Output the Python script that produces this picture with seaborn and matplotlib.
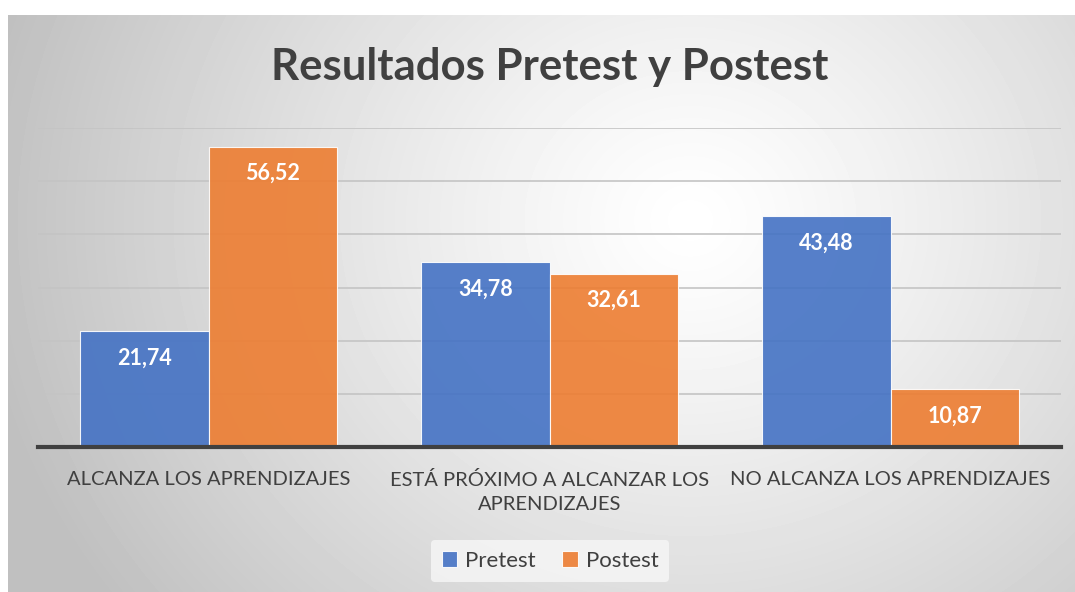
import numpy as np
import pandas as pd
import matplotlib
matplotlib.use("Agg")
import matplotlib.pyplot as plt
import seaborn as sns

# Data
categorias = ["ALCANZA LOS APRENDIZAJES",
              "ESTÁ PRÓXIMO A ALCANZAR LOS\nAPRENDIZAJES",
              "NO ALCANZA LOS APRENDIZAJES"]
pretest = [21.74, 34.78, 43.48]
postest = [56.52, 32.61, 10.87]
series = ["Pretest", "Postest"]

df = pd.DataFrame({
    "categoria": categorias * 2,
    "valor": pretest + postest,
    "serie": [series[0]] * 3 + [series[1]] * 3,
})

sns.set_style("white")
plt.rcParams["font.family"] = ["Lato", "DejaVu Sans"]

W, H = 1075, 592
fig = plt.figure(figsize=(W / 100, H / 100), dpi=100)
fig.patch.set_facecolor("white")

# radial gradient background of the chart box
bx0, by0, bx1, by1 = 8, 15, 1075, 592
bg = fig.add_axes([bx0 / W, 1 - by1 / H, (bx1 - bx0) / W, (by1 - by0) / H])
yy, xx = np.mgrid[by0:by1, bx0:bx1]
r = np.sqrt(((xx - 690) / 1.0) ** 2 + ((yy - 220) / 0.9) ** 2)
t = np.clip(r / 720, 0, 1)
shade = 1 - 0.25 * t ** 1.2
bg.imshow(shade, cmap="gray", vmin=0, vmax=1, aspect="auto",
          extent=[0, 1, 0, 1], origin="upper")
bg.axis("off")
bg.set_zorder(0)

# main axes
ax_l, ax_r, ax_b, ax_t = 38, 1061, 447, 128
ax = fig.add_axes([ax_l / W, 1 - ax_b / H, (ax_r - ax_l) / W, (ax_b - ax_t) / H])
ax.set_zorder(1)
ax.patch.set_alpha(0)

colores = {"Pretest": "#4472C4", "Postest": "#ED7D31"}
sns.barplot(data=df, x="categoria", y="valor", hue="serie", palette=colores,
            saturation=1, width=0.753, alpha=0.9, edgecolor=(1, 1, 1, 0.6),
            linewidth=0.8, ax=ax, zorder=3)

ax.set_ylim(0, 60)
ax.set_xlim(-0.5, 2.5)
ax.set_yticks(np.arange(10, 61, 10))
ax.yaxis.grid(True, color="#c4c4c4", linewidth=1.2, zorder=0)
ax.set_axisbelow(True)
ax.tick_params(axis="y", left=False, labelleft=False)
ax.tick_params(axis="x", bottom=False, pad=14, labelsize=14.5, labelcolor="#404040")
for lbl in ax.get_xticklabels():
    lbl.set_linespacing(1.45)
for s in ["top", "left", "right"]:
    ax.spines[s].set_visible(False)
ax.spines["bottom"].set_color("#404040")
ax.spines["bottom"].set_linewidth(3)
ax.spines["bottom"].set_zorder(5)
ax.set_xlabel("")
ax.set_ylabel("")

# data labels
for cont in ax.containers:
    for bar in cont:
        h = bar.get_height()
        ax.annotate(f"{h:.2f}".replace(".", ","),
                    xy=(bar.get_x() + bar.get_width() / 2, h),
                    xytext=(0, -27), textcoords="offset pixels",
                    ha="center", va="center", color="white",
                    fontsize=15.5, fontweight="bold", zorder=6)

# legend
handles, labels = ax.get_legend_handles_labels()
ax.legend_.remove()
leg = fig.legend(handles, labels, loc="center", bbox_to_anchor=(550 / W, 1 - 561 / H),
                 ncol=2, frameon=True, fontsize=16, handlelength=0.7,
                 handleheight=0.7, handletextpad=0.35, columnspacing=1.2,
                 borderpad=0.5)
leg.get_frame().set_facecolor("#f7f7f7")
leg.get_frame().set_edgecolor("none")
for txt in leg.get_texts():
    txt.set_color("#404040")

fig.text(550 / W, 1 - 67 / H, "Resultados Pretest y Postest", ha="center",
         va="center", fontsize=31.5, fontweight="bold", color="#404040")

fig.savefig("out.png", dpi=100)
